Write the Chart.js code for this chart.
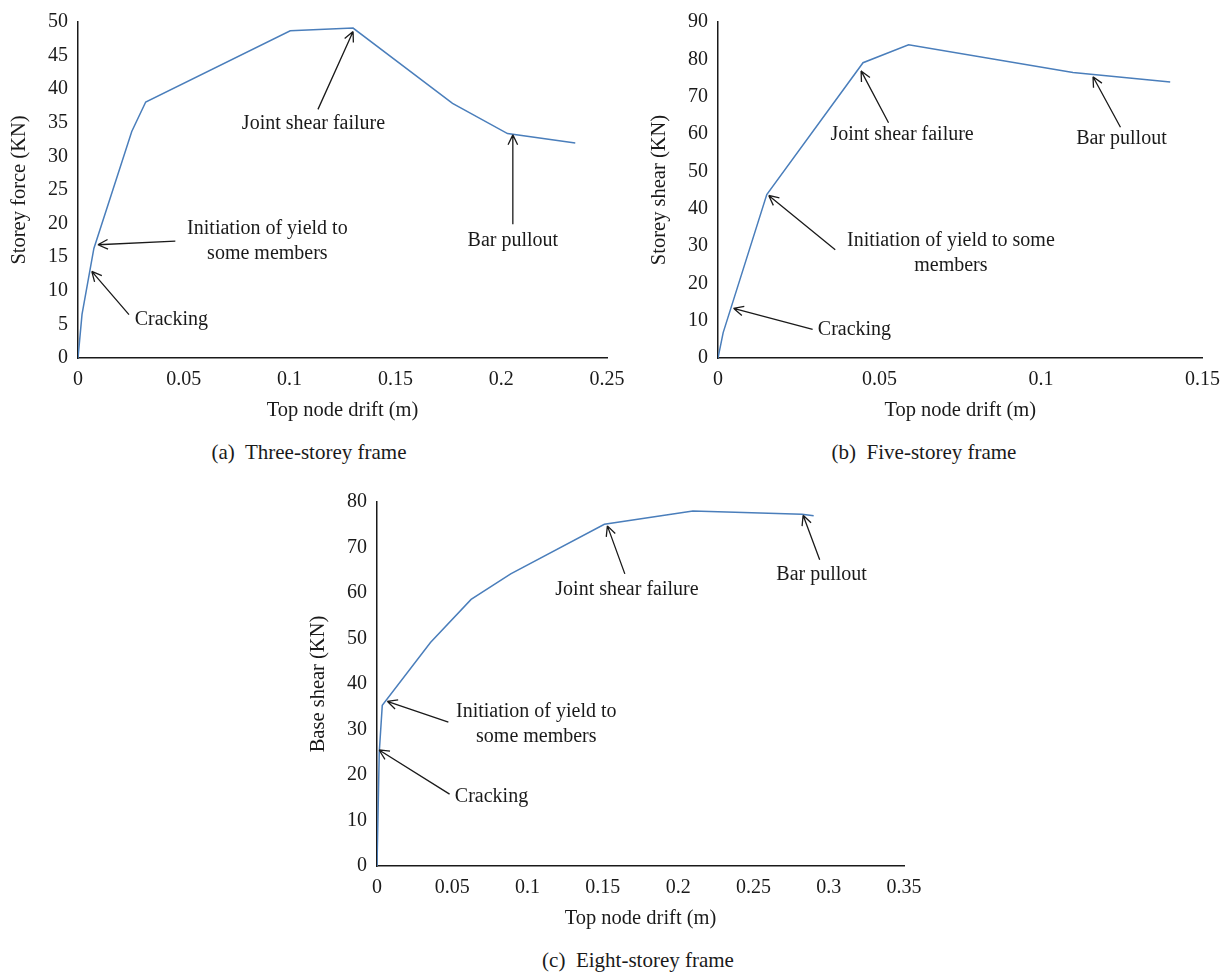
<!DOCTYPE html>
<html>
<head>
<meta charset="utf-8">
<title>Pushover curves</title>
<script src="https://cdn.jsdelivr.net/npm/chart.js@4.4.1/dist/chart.umd.min.js"></script>
<style>
  body { margin: 0; background: #fff; width: 1230px; height: 975px; position: relative; overflow: hidden; font-family: "Liberation Serif", serif; }
  .panel { position: absolute; }
  .caption { position: absolute; font-size: 21px; line-height: 20px; color: #1a1a1a; transform: translateX(-50%); white-space: pre; }
</style>
</head>
<body>
<div class="panel" style="left:0;top:0"><canvas id="chartA" width="640" height="430"></canvas></div>
<div class="panel" style="left:640px;top:0"><canvas id="chartB" width="590" height="430"></canvas></div>
<div class="panel" style="left:299px;top:480px"><canvas id="chartC" width="640" height="458"></canvas></div>
<div class="caption" style="left:309px;top:442px">(a)  Three-storey frame</div>
<div class="caption" style="left:924px;top:442px">(b)  Five-storey frame</div>
<div class="caption" style="left:638px;top:950px">(c)  Eight-storey frame</div>

<script>
// (a) three-storey frame
const driftA = [0, 0.0019, 0.0075, 0.0254, 0.032, 0.1003, 0.130, 0.177, 0.203, 0.235];
const forceA = [0, 6.5, 16.3, 33.7, 38.1, 48.7, 49.1, 37.9, 33.4, 32.0];
const xTicksA = [0, 0.05, 0.1, 0.15, 0.2, 0.25];
const yTicksA = [0, 5, 10, 15, 20, 25, 30, 35, 40, 45, 50];

// (b) five-storey frame
const driftB = [0, 0.0016, 0.0151, 0.0449, 0.059, 0.1099, 0.140];
const shearB = [0, 6.8, 43.8, 79.1, 83.9, 76.5, 73.9];
const xTicksB = [0, 0.05, 0.1, 0.15];
const yTicksB = [0, 10, 20, 30, 40, 50, 60, 70, 80, 90];

// (c) eight-storey frame
const driftC = [0, 0.0015, 0.0035, 0.0355, 0.0625, 0.0888, 0.151, 0.2098, 0.2823, 0.29];
const shearC = [0, 25, 35.3, 49.1, 58.6, 64.2, 75.1, 78.0, 77.3, 77.0];
const xTicksC = [0, 0.05, 0.1, 0.15, 0.2, 0.25, 0.3, 0.35];
const yTicksC = [0, 10, 20, 30, 40, 50, 60, 70, 80];

// arrow notes, in data units: text anchor, arrow tail, arrow head
const notesA = [
  { label: ["Joint shear failure"], at: [0.1113, 34.8], tail: [0.1134, 37.0], head: [0.130, 48.6] },
  { label: ["Bar pullout"], at: [0.2055, 17.5], tail: [0.2055, 19.9], head: [0.2055, 33.2] },
  { label: ["Initiation of yield to", "some members"], at: [0.0895, 19.3], tail: [0.046, 17.4], head: [0.0094, 16.85] },
  { label: ["Cracking"], align: "left", at: [0.0268, 5.7], tail: [0.0241, 6.46], head: [0.0065, 12.9] }
];
const notesB = [
  { label: ["Cracking"], align: "left", at: [0.0309, 7.5], tail: [0.0293, 7.67], head: [0.0048, 13.3] },
  { label: ["Initiation of yield to some", "members"], at: [0.0721, 31.4], tail: [0.0363, 29.0], head: [0.0157, 43.55] },
  { label: ["Joint shear failure"], at: [0.057, 59.8], tail: [0.0528, 63.0], head: [0.0443, 76.9] },
  { label: ["Bar pullout"], at: [0.1249, 58.6], tail: [0.1246, 61.8], head: [0.1161, 75.35] }
];
const notesC = [
  { label: ["Cracking"], align: "left", at: [0.0517, 15.2], tail: [0.0482, 15.8], head: [0.0014, 25.5] },
  { label: ["Initiation of yield to", "some members"], at: [0.1058, 33.9], tail: [0.0474, 31.6], head: [0.0068, 36.2] },
  { label: ["Joint shear failure"], at: [0.166, 60.8], tail: [0.1646, 64.2], head: [0.153, 74.75] },
  { label: ["Bar pullout"], at: [0.2953, 64.1], tail: [0.294, 67.3], head: [0.283, 77.1] }
];

const lineBlue = "#4a7ebb";
const ink = "#1a1a1a";
const serif = "'Liberation Serif', 'DejaVu Serif', serif";

function notePlugin(notes) {
  return {
    id: "notes",
    afterDraw(chart) {
      const { ctx } = chart;
      const x = chart.scales.x, y = chart.scales.y;
      ctx.save();
      ctx.strokeStyle = ink;
      ctx.fillStyle = ink;
      ctx.lineWidth = 1.3;
      ctx.font = "20px " + serif;
      ctx.textBaseline = "middle";
      notes.forEach(n => {
        const x0 = x.getPixelForValue(n.tail[0]), y0 = y.getPixelForValue(n.tail[1]);
        const x1 = x.getPixelForValue(n.head[0]), y1 = y.getPixelForValue(n.head[1]);
        const a = Math.atan2(y1 - y0, x1 - x0);
        ctx.beginPath();
        ctx.moveTo(x0, y0);
        ctx.lineTo(x1, y1);
        [-0.45, 0.45].forEach(d => {
          ctx.moveTo(x1, y1);
          ctx.lineTo(x1 - 11 * Math.cos(a + d), y1 - 11 * Math.sin(a + d));
        });
        ctx.stroke();
        ctx.textAlign = n.align || "center";
        const tx = x.getPixelForValue(n.at[0]), ty = y.getPixelForValue(n.at[1]);
        n.label.forEach((line, i) => ctx.fillText(line, tx, ty + i * 25));
      });
      ctx.restore();
    }
  };
}

function makeChart(id, xs, ys, xTicks, yTicks, yTitle, notes, pad) {
  const pts = xs.map((v, i) => ({ x: v, y: ys[i] }));
  return new Chart(document.getElementById(id), {
    type: "scatter",
    data: {
      datasets: [{ data: pts, showLine: true, borderColor: lineBlue, borderWidth: 1.5, pointRadius: 0, tension: 0 }]
    },
    options: {
      responsive: false,
      animation: false,
      events: [],
      layout: { padding: pad },
      plugins: { legend: { display: false }, tooltip: { enabled: false } },
      scales: {
        x: {
          type: "linear",
          min: xTicks[0],
          max: xTicks[xTicks.length - 1],
          afterBuildTicks: s => { s.ticks = xTicks.map(v => ({ value: v })); },
          afterFit: s => { s.height = 72; },
          grid: { display: false, drawTicks: false },
          border: { display: true, color: ink, width: 1.5 },
          ticks: { padding: 10, color: ink, font: { family: serif, size: 20 }, maxRotation: 0, callback: v => String(v) },
          title: { display: true, text: "Top node drift (m)", color: ink, font: { family: serif, size: 20.5 }, padding: { top: 0, bottom: 7 } }
        },
        y: {
          type: "linear",
          min: yTicks[0],
          max: yTicks[yTicks.length - 1],
          afterBuildTicks: s => { s.ticks = yTicks.map(v => ({ value: v })); },
          afterFit: s => { s.width = 78; },
          grid: { display: false, drawTicks: false },
          border: { display: true, color: ink, width: 1.5 },
          ticks: { padding: 10, color: ink, font: { family: serif, size: 20 }, callback: v => String(v) },
          title: { display: true, text: yTitle, color: ink, font: { family: serif, size: 20.5 }, padding: { top: 7, bottom: 0 } }
        }
      }
    },
    plugins: [notePlugin(notes)]
  });
}

makeChart("chartA", driftA, forceA, xTicksA, yTicksA, "Storey force (KN)", notesA, { top: 15, right: 33, bottom: 0, left: 0 });
makeChart("chartB", driftB, shearB, xTicksB, yTicksB, "Storey shear (KN)", notesB, { top: 15, right: 24, bottom: 0, left: 0 });
makeChart("chartC", driftC, shearC, xTicksC, yTicksC, "Base shear (KN)", notesC, { top: 15, right: 35, bottom: 0, left: 0 });
</script>
</body>
</html>
